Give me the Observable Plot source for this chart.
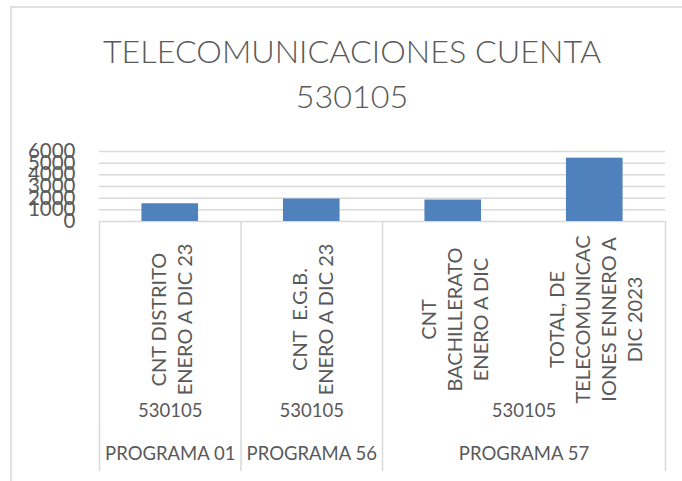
<!DOCTYPE html>
<html>
<head>
<meta charset="utf-8">
<script src="https://cdn.jsdelivr.net/npm/d3@7"></script>
<script src="https://cdn.jsdelivr.net/npm/@observablehq/plot@0.6"></script>
<style>
  html, body { margin: 0; padding: 0; background: #fff; }
  #wrap { position: relative; width: 682px; height: 481px; overflow: hidden; background: #fff; }
  #frame { position: absolute; left: 10px; top: 6px; width: 700px; height: 500px;
           border-top: 2px solid #e0e0e0; border-left: 2px solid #e0e0e0; box-sizing: border-box; }
  #title { position: absolute; left: 0; top: 0; width: 704px; height: 130px; text-align: center;
           font-family: Lato, sans-serif; font-weight: 300; font-size: 32.3px; line-height: 45px;
           color: #595959; padding-top: 28px; box-sizing: border-box; }
  #chart { position: absolute; left: 0; top: 130px; }
  #chart svg { overflow: visible; }
</style>
</head>
<body>
<div id="wrap">
  <div id="frame"></div>
  <div id="title">TELECOMUNICACIONES CUENTA<br>530105</div>
  <div id="chart"></div>
</div>
<script>
// ---- data ----
const conceptos = [
  "CNT DISTRITO\nENERO A DIC 23",
  "CNT  E.G.B.\nENERO A DIC 23",
  "CNT\nBACHILLERATO\nENERO A DIC",
  "TOTAL, DE\nTELECOMUNICAC\nIONES ENNERO A\nDIC 2023"
];
const cuentas = ["530105", "530105", "530105", "530105"];
const programas = ["PROGRAMA 01", "PROGRAMA 56", "PROGRAMA 57", "PROGRAMA 57"];
const valores = [1520, 1930, 1840, 5430];
const yTicks = [0, 1000, 2000, 3000, 4000, 5000, 6000];

// ---- derived tables ----
const n = conceptos.length;
const gap = 0.3; // Excel gap width 150% -> bar takes 40% of each slot
const bars = conceptos.map((c, i) => ({i, concepto: c, valor: valores[i]}));

function runs(keyFn) {
  const out = [];
  for (let i = 0; i < n; i++) {
    const k = keyFn(i);
    if (out.length && out[out.length - 1].key === k) out[out.length - 1].end = i + 1;
    else out.push({key: k, start: i, end: i + 1});
  }
  return out;
}
const grpCuenta = runs(i => programas[i] + "|" + cuentas[i]).map(r => ({...r, label: cuentas[r.start], mid: (r.start + r.end) / 2}));
const grpPrograma = runs(i => programas[i]).map(r => ({...r, label: programas[r.start], mid: (r.start + r.end) / 2}));
const bounds = Array.from(new Set([0, ...grpPrograma.map(g => g.end)]));

const W = 682, H = 351, mTop = 21, mBottom = 260, mLeft = 99, mRight = 17;
const grey = "#595959", line = "#d9d9d9";

const plot = Plot.plot({
  width: W,
  height: H,
  marginTop: mTop,
  marginBottom: mBottom,
  marginLeft: mLeft,
  marginRight: mRight,
  style: {fontFamily: "Lato, sans-serif", fontSize: "20.5px", color: grey, background: "transparent", overflow: "visible"},
  x: {domain: [0, n], axis: null},
  y: {domain: [0, 6000], ticks: yTicks, tickSize: 0, tickPadding: 24, tickFormat: d => String(d), label: null},
  marks: [
    Plot.ruleY(yTicks, {stroke: line, strokeWidth: 1.5}),
    Plot.ruleX(bounds, {x: d => d, stroke: line, strokeWidth: 1.5, insetTop: H - mTop - mBottom, insetBottom: -250}),
    Plot.rectY(bars, {x1: d => d.i + gap, x2: d => d.i + 1 - gap, y: "valor", fill: "#4f81bd"}),
    Plot.text(bars, {x: d => d.i + 0.5, text: "concepto", frameAnchor: "bottom", dy: 98,
      rotate: -90, textAnchor: "middle", lineAnchor: "middle", lineHeight: 1.3, fontSize: 20, fill: grey}),
    Plot.text(grpCuenta, {x: "mid", text: "label", frameAnchor: "bottom", dy: 195, fontSize: 18.5, fill: grey}),
    Plot.text(grpPrograma, {x: "mid", text: "label", frameAnchor: "bottom", dy: 238, fontSize: 18.5, fill: grey})
  ]
});
document.getElementById("chart").appendChild(plot);
</script>
</body>
</html>
